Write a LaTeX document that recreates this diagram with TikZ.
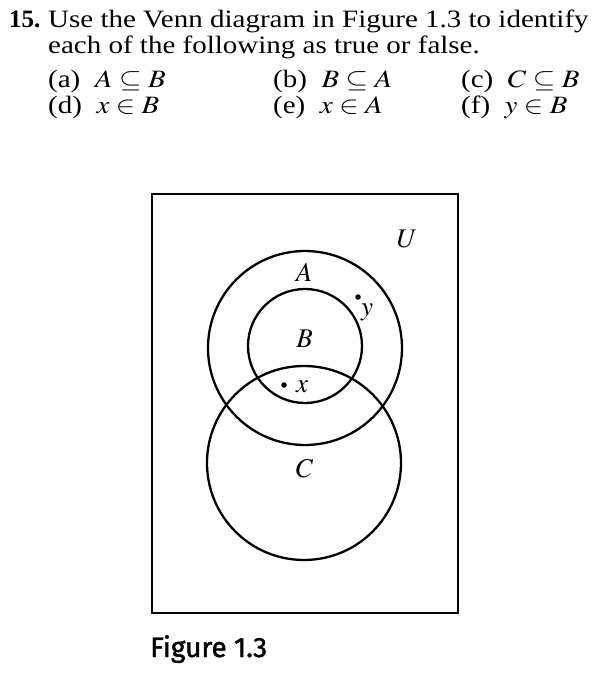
\documentclass[tikz,border=0pt]{standalone}
\usepackage{mathptmx}
\usepackage{fontspec}
\setmainfont{Liberation Serif}
\newfontfamily\capfont[BoldFont={Fira Sans},BoldFeatures={FakeBold=1.5}]{Fira Sans}
\usetikzlibrary{positioning}

\newcommand{\stretchtext}[1]{\scalebox{1.16}[1]{#1}}

\tikzset{
  txt/.style={font=\fontsize{25}{29}\selectfont, inner sep=0pt, anchor=base west},
  setname/.style={font=\fontsize{27}{30}\selectfont, inner sep=0pt, anchor=base},
  venn/.style={draw, circle, line width=2.3pt, inner sep=0pt},
  pt/.style={circle, fill=black, inner sep=0pt, minimum size=5.5pt},
}

\begin{document}
\begin{tikzpicture}[x=1pt,y=-1pt]
  \useasboundingbox (0,0) rectangle (597,677);
  % problem text
  \node[txt] (num) at (9,28) {\textbf{15.}};
  \node[txt] (l1) at (48,28) {\stretchtext{Use the Venn diagram in Figure 1.3 to identify}};
  \node[txt] (l2) at (48,53) {\stretchtext{each of the following as true or false.}};
  \node[txt] (ia) at (48,88) {\stretchtext{(a)\enspace $A\subseteq B$}};
  \node[txt] (ib) at (273,88) {\stretchtext{(b)\enspace $B\subseteq A$}};
  \node[txt] (ic) at (461,88) {\stretchtext{(c)\enspace $C\subseteq B$}};
  \node[txt] (id) at (48,113) {\stretchtext{(d)\enspace $x\in B$}};
  \node[txt] (ie) at (273,113) {\stretchtext{(e)\enspace $x\in A$}};
  \node[txt] (if) at (461,113) {\stretchtext{(f)\enspace $y\in B$}};

  % Figure 1.3
  \node[draw, line width=2.6pt, minimum width=306pt, minimum height=419pt] (univ) at (305,403.5) {};
  \node[venn, minimum size=194pt] (A) at (305,348) {};
  \node[venn, minimum size=114pt] (B) at (305,346) {};
  \node[venn, minimum size=194pt] (C) at (304,463) {};

  \node[setname] (lU) at (407,247) {$U$};
  \node[setname] (lA) at (304,281) {$A$};
  \node[setname] (lB) at (304.5,347) {$B$};
  \node[setname] (lC) at (304.5,477) {$C$};

  \node[pt] (px) at (284,385) {};
  \node[setname, anchor=base west] (lx) at (296,392) {$x$};
  \node[pt] (py) at (358,297) {};
  \node[setname, anchor=base west] (ly) at (361,315) {$y$};

  \node[txt, font=\capfont\bfseries\fontsize{28}{32}\selectfont] (cap) at (150,657) {Figure 1.3};
\end{tikzpicture}
\end{document}
